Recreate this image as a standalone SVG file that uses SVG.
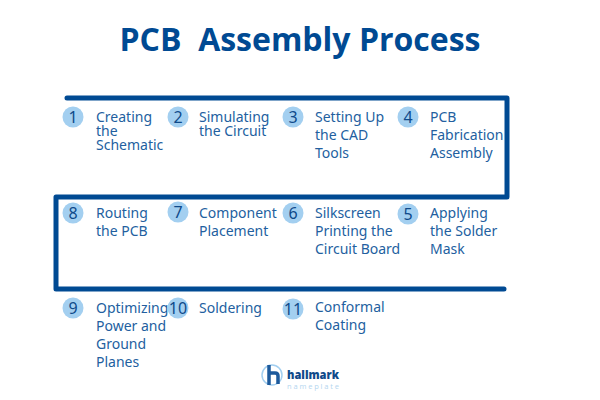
<svg xmlns="http://www.w3.org/2000/svg" width="600" height="400" viewBox="0 0 600 400">
<style>
.t{font-family:"Noto Sans","Liberation Sans",sans-serif;font-size:14px;fill:#235f9f}
.n{font-family:"Noto Sans","Liberation Sans",sans-serif;font-size:16px;fill:#0f4a8a;text-anchor:middle}
.c{fill:#a3cff0}
.l{fill:none;stroke:#004a93;stroke-width:5;stroke-linejoin:round;stroke-linecap:round}
</style>
<rect width="600" height="400" fill="#ffffff"/>
<text id="title" x="300" y="51" text-anchor="middle" xml:space="preserve" style="font-family:'Open Sans','Liberation Sans',sans-serif;font-size:32px;font-weight:700;fill:#004a93">PCB  Assembly Process</text>
<g id="connectors"><path class="l" d="M67 98H507V197H56V289H504"/></g>
<g id="n1"><circle class="c" cx="73" cy="117" r="10.500"/><text class="n" x="73" y="122.500">1</text><text class="t" x="96" y="122">Creating</text><text class="t" x="96" y="136">the</text><text class="t" x="96" y="150">Schematic</text></g>
<g id="n2"><circle class="c" cx="178" cy="117" r="10.500"/><text class="n" x="178" y="122.500">2</text><text class="t" x="199" y="122">Simulating</text><text class="t" x="199" y="136">the Circuit</text></g>
<g id="n3"><circle class="c" cx="293" cy="117" r="10.500"/><text class="n" x="293" y="122.500">3</text><text class="t" x="315" y="122">Setting Up</text><text class="t" x="315" y="140">the CAD</text><text class="t" x="315" y="158">Tools</text></g>
<g id="n4"><circle class="c" cx="408" cy="117" r="10.500"/><text class="n" x="408" y="122.500">4</text><text class="t" x="430" y="122">PCB</text><text class="t" x="430" y="140">Fabrication</text><text class="t" x="430" y="158">Assembly</text></g>
<g id="n5"><circle class="c" cx="408" cy="214" r="10.500"/><text class="n" x="408" y="219.500">5</text><text class="t" x="430" y="218">Applying</text><text class="t" x="430" y="236">the Solder</text><text class="t" x="430" y="254">Mask</text></g>
<g id="n6"><circle class="c" cx="293" cy="213" r="10.500"/><text class="n" x="293" y="218.500">6</text><text class="t" x="315" y="218">Silkscreen</text><text class="t" x="315" y="236">Printing the</text><text class="t" x="315" y="254">Circuit Board</text></g>
<g id="n7"><circle class="c" cx="178" cy="212" r="10.500"/><text class="n" x="178" y="217.500">7</text><text class="t" x="199" y="218">Component</text><text class="t" x="199" y="236">Placement</text></g>
<g id="n8"><circle class="c" cx="73" cy="213" r="10.500"/><text class="n" x="73" y="218.500">8</text><text class="t" x="96" y="218">Routing</text><text class="t" x="96" y="236">the PCB</text></g>
<g id="n9"><circle class="c" cx="73" cy="308" r="10.500"/><text class="n" x="73" y="313.500">9</text><text class="t" x="96" y="313">Optimizing</text><text class="t" x="96" y="331">Power and</text><text class="t" x="96" y="349">Ground</text><text class="t" x="96" y="367">Planes</text></g>
<g id="n10"><circle class="c" cx="178" cy="308" r="10.500"/><text class="n" x="178" y="313.500">10</text><text class="t" x="199" y="313">Soldering</text></g>
<g id="n11"><circle class="c" cx="293" cy="309" r="10.500"/><text class="n" x="293" y="314.500">11</text><text class="t" x="315" y="312">Conformal</text><text class="t" x="315" y="330">Coating</text></g>
<g id="logo">
<circle cx="272" cy="375" r="10" fill="none" stroke="#a3cff0" stroke-width="1.500"/>
<path d="M269 365V385M269 373H275Q278 373 278 376V384" fill="none" stroke="#1d5a9c" stroke-width="3.500"/>
<text x="287" y="379" style="font-family:'Open Sans','Liberation Sans',sans-serif;font-size:13px;font-weight:800;fill:#0f4a8a" textLength="52" lengthAdjust="spacingAndGlyphs">hallmark</text>
<text x="287" y="389" style="font-family:'Open Sans','Liberation Sans',sans-serif;font-size:7.500px;fill:#b5d6ef" textLength="52">nameplate</text>
</g>
</svg>
